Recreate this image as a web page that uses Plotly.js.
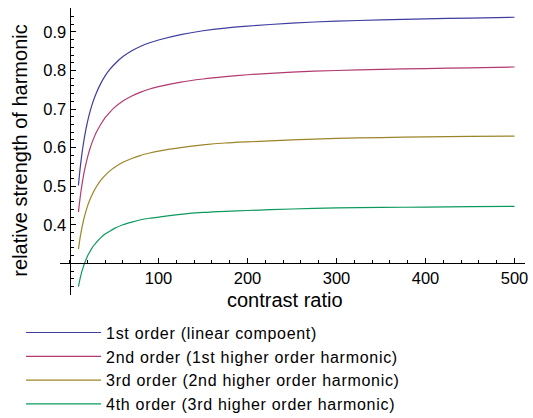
<!DOCTYPE html>
<html>
<head>
<meta charset="utf-8">
<script src="https://cdn.plot.ly/plotly-3.0.1.min.js"></script>
<style>html,body{margin:0;padding:0;background:#fff;}#chart{width:533px;height:418px;}
.legendtext{letter-spacing:0.7px;}</style>
</head>
<body>
<div id="chart"></div>
<script>
// contrast ratio samples
const contrastRatio = [10, 11, 12, 13, 14, 15, 17, 20, 22.5, 25, 27.5, 30, 35, 40, 45, 50, 60, 70, 80, 90, 100, 125, 150, 175, 200, 250, 300, 350, 400, 450, 500];
// relative strength of each harmonic
const order1 = [0.502, 0.526, 0.548, 0.567, 0.585, 0.601, 0.630, 0.665, 0.689, 0.709, 0.726, 0.741, 0.766, 0.786, 0.802, 0.815, 0.836, 0.851, 0.863, 0.872, 0.879, 0.893, 0.903, 0.910, 0.915, 0.923, 0.928, 0.931, 0.934, 0.936, 0.938];
const order2 = [0.433, 0.453, 0.472, 0.489, 0.504, 0.518, 0.543, 0.573, 0.594, 0.611, 0.626, 0.639, 0.660, 0.678, 0.691, 0.703, 0.721, 0.734, 0.744, 0.752, 0.758, 0.770, 0.778, 0.784, 0.789, 0.796, 0.800, 0.803, 0.805, 0.807, 0.809];
const order3 = [0.337, 0.353, 0.368, 0.381, 0.393, 0.404, 0.423, 0.447, 0.463, 0.476, 0.488, 0.498, 0.515, 0.528, 0.539, 0.548, 0.562, 0.572, 0.580, 0.586, 0.591, 0.600, 0.607, 0.612, 0.615, 0.620, 0.624, 0.626, 0.628, 0.629, 0.630];
const order4 = [0.240, 0.251, 0.262, 0.271, 0.280, 0.287, 0.301, 0.318, 0.329, 0.339, 0.347, 0.354, 0.366, 0.376, 0.383, 0.390, 0.400, 0.407, 0.413, 0.417, 0.420, 0.427, 0.432, 0.435, 0.437, 0.441, 0.444, 0.445, 0.446, 0.447, 0.448];
const seriesNames = [
  "1st order (linear compoent)",
  "2nd order (1st higher order harmonic)",
  "3rd order (2nd higher order harmonic)",
  "4th order (3rd higher order harmonic)"
];
const seriesColors = ["#3e3ea0", "#b23a70", "#9c8528", "#0c9a5c"];
const xTicks = [100, 200, 300, 400, 500];
const yTicks = [0.4, 0.5, 0.6, 0.7, 0.8, 0.9];
const xTitle = "contrast ratio";
const yTitle = "relative strength of harmonic";

const xRange = [-10.7, 511.8];
const yRange = [0.218, 0.962];
const xCross = 0, yCross = 0.3;

const FONT = "Liberation Sans, Arial, Helvetica, sans-serif";
const data = [order1, order2, order3, order4].map((vals, i) => ({
  x: contrastRatio, y: vals, type: "scatter", mode: "lines",
  name: seriesNames[i],
  line: {color: seriesColors[i], width: 1.2, shape: "spline", smoothing: 0.6}
}));

const layout = {
  width: 533, height: 418,
  margin: {l: 60, r: 8, t: 8, b: 123, autoexpand: false},
  paper_bgcolor: "#fff", plot_bgcolor: "#fff",
  font: {family: FONT, color: "#000", size: 16},
  showlegend: true,
  legend: {
    xref: "container", yref: "container",
    x: 0.0395, y: 0.245, xanchor: "left", yanchor: "top",
    font: {family: FONT, size: 16, color: "#000"},
    itemwidth: 75, bgcolor: "rgba(0,0,0,0)", traceorder: "normal"
  },
  xaxis: {
    range: xRange, anchor: "free",
    position: (yCross - yRange[0]) / (yRange[1] - yRange[0]),
    showgrid: false, zeroline: false, showline: true, linecolor: "#000", linewidth: 1,
    tickmode: "array", tickvals: xTicks, ticks: "inside", ticklen: 5, tickcolor: "#000",
    tickfont: {family: FONT, size: 16.5},
    minor: {tickmode: "linear", tick0: 0, dtick: 20, ticks: "inside", ticklen: 3, tickcolor: "#000"}
  },
  yaxis: {
    range: yRange, anchor: "free",
    position: (xCross - xRange[0]) / (xRange[1] - xRange[0]),
    showgrid: false, zeroline: false, showline: true, linecolor: "#000", linewidth: 1,
    tickmode: "array", tickvals: yTicks, ticks: "inside", ticklen: 5, tickcolor: "#000",
    tickfont: {family: FONT, size: 16.5},
    minor: {tickmode: "linear", tick0: 0, dtick: 0.02, ticks: "inside", ticklen: 3, tickcolor: "#000"}
  },
  annotations: [
    {text: xTitle, xref: "paper", yref: "paper", x: 0.483, y: -0.017,
     xanchor: "center", yanchor: "middle", showarrow: false, borderpad: 0,
     font: {family: FONT, size: 20, color: "#000"}},
    {text: yTitle, xref: "paper", yref: "paper", x: -0.086, y: 0.503,
     xanchor: "center", yanchor: "middle", showarrow: false, textangle: -90, borderpad: 0,
     font: {family: FONT, size: 20, color: "#000"}}
  ]
};

Plotly.newPlot("chart", data, layout, {displayModeBar: false, staticPlot: true});
</script>
</body>
</html>
